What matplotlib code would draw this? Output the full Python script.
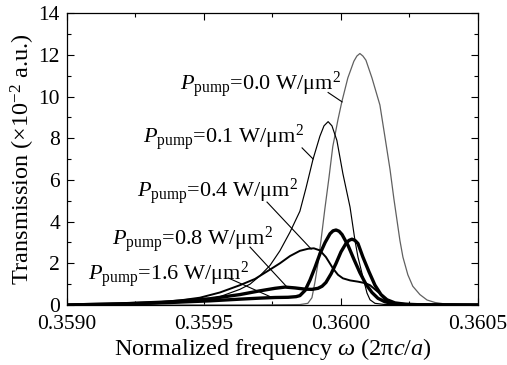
import matplotlib
matplotlib.use("Agg")
import matplotlib.pyplot as plt
from matplotlib.ticker import MultipleLocator, FormatStrFormatter

plt.rcParams['font.family'] = ['Liberation Serif', 'DejaVu Serif']
plt.rcParams['mathtext.fontset'] = 'custom'
plt.rcParams['mathtext.rm'] = 'Liberation Serif'
plt.rcParams['mathtext.it'] = 'Liberation Serif:italic'
plt.rcParams['mathtext.bf'] = 'Liberation Serif:bold'

# ---- data ----
pump_labels = ["0.0", "0.1", "0.4", "0.8", "1.6"]

w00 = [0.35900, 0.35970, 0.359850, 0.359879, 0.359894, 0.359905, 0.359916, 0.359927, 0.359941,
       0.359956, 0.359970, 0.359989, 0.360003, 0.360025, 0.360047, 0.360058, 0.360069, 0.360080,
       0.360091, 0.360113, 0.360142, 0.360160, 0.360179, 0.360193, 0.360204, 0.360215, 0.360226,
       0.360244, 0.360262, 0.360288, 0.360314, 0.360343, 0.360379, 0.360434, 0.36050]
t00 = [0.0, 0.0, 0.02, 0.08, 0.35, 1.1, 2.0, 3.1, 4.6, 6.1, 7.6, 8.9, 9.75, 10.9, 11.7, 11.95,
       12.07, 11.95, 11.75, 10.9, 9.6, 8.1, 6.5, 5.1, 4.1, 3.1, 2.3, 1.45, 0.9, 0.5, 0.24, 0.12,
       0.05, 0.02, 0.0]

w01 = [0.35900, 0.359303, 0.359412, 0.359485, 0.359558, 0.359631, 0.359668, 0.359704, 0.359741,
       0.359777, 0.359814, 0.359850, 0.359872, 0.359898, 0.359923, 0.359938, 0.359953, 0.359967,
       0.359985, 0.360007, 0.360033, 0.360051, 0.360062, 0.360077, 0.360095, 0.360106, 0.360124,
       0.360161, 0.36050]
t01 = [0.0, 0.05, 0.12, 0.2, 0.4, 0.75, 1.0, 1.4, 1.9, 2.6, 3.5, 4.5, 5.6, 7.0, 8.1, 8.6, 8.8,
       8.6, 7.9, 6.3, 4.7, 3.1, 2.3, 1.5, 0.57, 0.25, 0.08, 0.02, 0.0]

w04 = [0.35900, 0.359303, 0.359412, 0.359485, 0.359558, 0.359631, 0.359686, 0.359741, 0.359777,
       0.359814, 0.359850, 0.359880, 0.359901, 0.359923, 0.359945, 0.359971, 0.359989, 0.360007,
       0.360033, 0.360062, 0.360088, 0.360106, 0.360124, 0.360142, 0.360157, 0.360172, 0.360197,
       0.360234, 0.36050]
t04 = [0.0, 0.1, 0.22, 0.35, 0.6, 0.95, 1.25, 1.7, 2.0, 2.35, 2.6, 2.7, 2.72, 2.62, 2.3, 1.75,
       1.45, 1.28, 1.18, 1.12, 1.05, 0.95, 0.75, 0.55, 0.3, 0.15, 0.06, 0.02, 0.0]

w08 = [0.35900, 0.359193, 0.359376, 0.359522, 0.359631, 0.359704, 0.359759, 0.359796, 0.359832,
       0.359869, 0.359894, 0.359916, 0.359931, 0.359945, 0.359964, 0.359982, 0.360000, 0.360018,
       0.360029, 0.360040, 0.360051, 0.360062, 0.360080, 0.360102, 0.360124, 0.360146, 0.360168,
       0.360197, 0.360234, 0.360288, 0.36050]
t08 = [0.0, 0.05, 0.15, 0.3, 0.5, 0.68, 0.8, 0.86, 0.82, 0.76, 0.75, 0.8, 0.9, 1.08, 1.5, 2.0,
       2.55, 2.95, 3.1, 3.16, 3.1, 2.95, 2.3, 1.6, 0.95, 0.5, 0.25, 0.1, 0.04, 0.01, 0.0]

w16 = [0.35900, 0.359193, 0.359376, 0.359522, 0.359631, 0.359704, 0.359759, 0.359807, 0.359836,
       0.359850, 0.359869, 0.359887, 0.359905, 0.359923, 0.359942, 0.359960, 0.359971, 0.359982,
       0.359993, 0.360004, 0.360026, 0.360047, 0.360069, 0.360091, 0.360113, 0.360135, 0.360161,
       0.360197, 0.360252, 0.36050]
t16 = [0.0, 0.05, 0.12, 0.2, 0.28, 0.33, 0.36, 0.37, 0.4, 0.45, 0.7, 1.2, 1.8, 2.45, 3.0, 3.42,
       3.56, 3.6, 3.54, 3.38, 2.85, 2.2, 1.55, 1.0, 0.6, 0.32, 0.15, 0.05, 0.01, 0.0]

x_ticks = [0.3590, 0.3595, 0.3600, 0.3605]
y_ticks = [0, 2, 4, 6, 8, 10, 12, 14]

# ---- figure ----
fig = plt.figure(figsize=(5.07, 3.65), dpi=100)
ax = fig.add_axes([0.1321, 0.1644, 0.8107, 0.7991])

ax.plot(w00, t00, color='#606060', lw=0.9)
ax.plot(w01, t01, color='black', lw=0.85)
ax.plot(w04, t04, color='black', lw=1.4)
ax.plot(w08, t08, color='black', lw=2.4)
ax.plot(w16, t16, color='black', lw=2.4)

ax.set_xlim(0.3590, 0.3605)
ax.set_ylim(0, 14)
ax.set_xticks(x_ticks)
ax.set_yticks(y_ticks)
ax.xaxis.set_major_formatter(FormatStrFormatter('%.4f'))
ax.xaxis.set_minor_locator(MultipleLocator(0.00025))
ax.yaxis.set_minor_locator(MultipleLocator(1))
ax.tick_params(which='both', direction='in', top=True, right=True, labelsize=15.5, width=0.8)
ax.tick_params(which='major', length=5)
ax.tick_params(which='minor', length=3)
ax.tick_params(axis='x', pad=7)
ax.tick_params(axis='y', pad=5)
for s in ax.spines.values():
    s.set_linewidth(0.9)

ax.set_xlabel(r'Normalized frequency $\omega$ (2π$c$/$a$)', fontsize=17.5, labelpad=2)
ax.set_ylabel(r'Transmission (×10$^{-2}$ a.u.)', fontsize=17.5, labelpad=1)

# annotations: (text x, text baseline y, line start, line end)
ann = [
    (0.359412, 10.32, (0.359953, 10.2), (0.360004, 9.75)),
    (0.359277, 7.78, (0.359858, 7.54), (0.359898, 7.01)),
    (0.359255, 5.18, (0.359730, 4.94), (0.359891, 2.69)),
    (0.359164, 2.88, (0.359668, 2.78), (0.359803, 0.86)),
    (0.359077, 1.20, (0.359588, 1.30), (0.359752, 0.34)),
]
for lab, (tx, ty, p0, p1) in zip(pump_labels, ann):
    ax.text(tx, ty, r'$P_{\mathrm{pump}}$=' + lab + r' W/μm$^2$', fontsize=16,
            ha='left', va='baseline')
    ax.plot([p0[0], p1[0]], [p0[1], p1[1]], color='black', lw=0.8)

fig.savefig('out.png', dpi=100)
